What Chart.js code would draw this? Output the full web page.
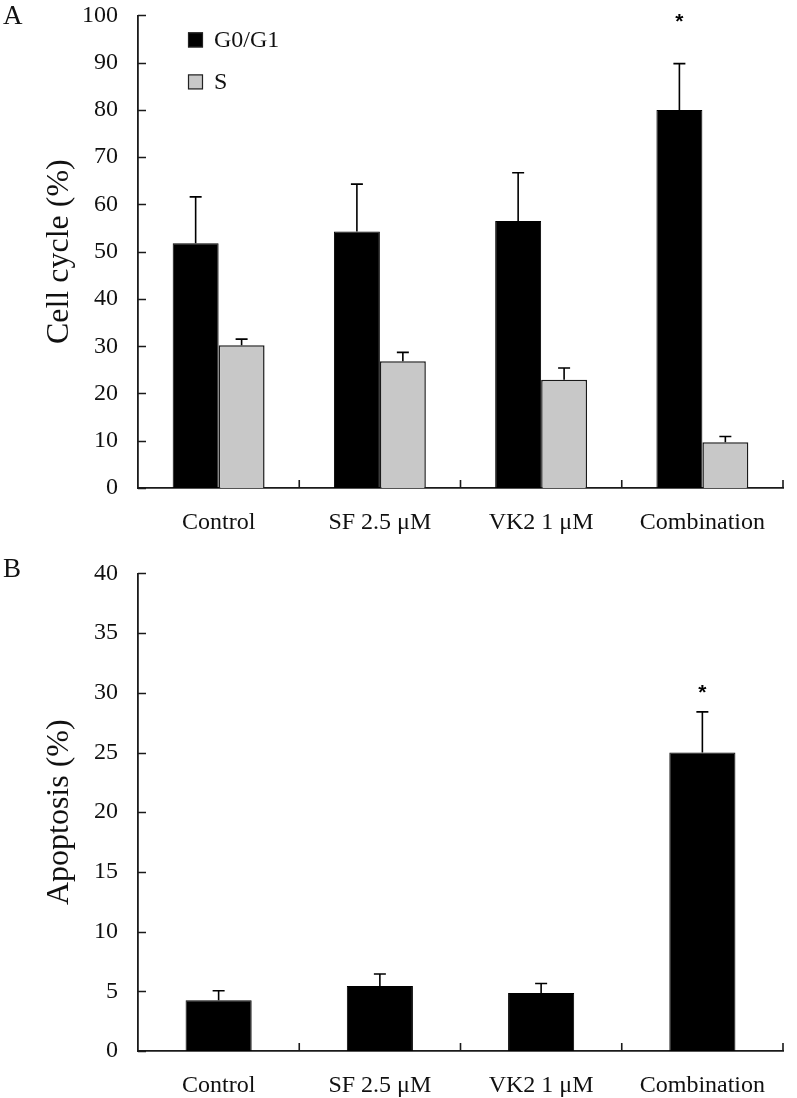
<!DOCTYPE html>
<html>
<head>
<meta charset="utf-8">
<script src="https://cdn.jsdelivr.net/npm/chart.js@4/dist/chart.umd.min.js"></script>
<style>
  html, body { margin: 0; padding: 0; background: #fff; overflow: hidden; }
  #wrap { position: relative; width: 797px; height: 1098px; overflow: hidden; }
  .panel { position: absolute; left: 0; width: 797px; }
  .letter { position: absolute; font-family: "Liberation Serif", serif; font-size: 27px; color: #111; }
</style>
</head>
<body>
<div id="wrap">
  <div class="panel" style="top:-11px"><canvas id="chartA"></canvas></div>
  <div class="panel" style="top:547px"><canvas id="chartB"></canvas></div>
  <div class="letter" style="left:3px; top:0px">A</div>
  <div class="letter" style="left:3px; top:553px">B</div>
</div>
<script>
// data
const groups = ['Control', 'SF 2.5 μM', 'VK2 1 μM', 'Combination'];

const g0g1 = [51.8, 54.3, 56.5, 80.0];
const g0g1Sd = [9.8, 10.0, 10.2, 9.8];
const sPhase = [30.2, 26.8, 22.9, 9.7];
const sPhaseSd = [1.3, 1.9, 2.5, 1.2];
const starA = [null, null, null, 99.5];

const apoptosis = [4.25, 5.45, 4.85, 25.0];
const apoptosisSd = [0.8, 1.0, 0.8, 3.4];
const starB = [null, null, null, 30.3];

const ticksA = [0, 10, 20, 30, 40, 50, 60, 70, 80, 90, 100];
const ticksB = [0, 5, 10, 15, 20, 25, 30, 35, 40];

const serif = '"Liberation Serif", "Times New Roman", serif';
const axisColor = '#1a1a1a';

// error bars (upper half only) + significance stars
const errorBarPlugin = {
    id: 'errorBars',
    afterDatasetsDraw(chart) {
        const ctx = chart.ctx;
        const y = chart.scales.y;
        ctx.save();
        ctx.strokeStyle = '#000';
        ctx.lineWidth = 1.6;
        chart.data.datasets.forEach((ds, i) => {
            const meta = chart.getDatasetMeta(i);
            meta.data.forEach((bar, j) => {
                const top = y.getPixelForValue(ds.data[j] + ds.sd[j]);
                ctx.beginPath();
                ctx.moveTo(bar.x, bar.y);
                ctx.lineTo(bar.x, top);
                ctx.moveTo(bar.x - 6, top);
                ctx.lineTo(bar.x + 6, top);
                ctx.stroke();
                if (ds.star && ds.star[j] != null) {
                    ctx.fillStyle = '#000';
                    ctx.font = 'bold 21px "Liberation Sans", Arial, sans-serif';
                    ctx.textAlign = 'center';
                    ctx.textBaseline = 'middle';
                    ctx.fillText('*', bar.x, y.getPixelForValue(ds.star[j]) + 4);
                }
            });
        });
        ctx.restore();
    }
};

// inward tick marks on both axes
const innerTicksPlugin = {
    id: 'innerTicks',
    afterDraw(chart) {
        const ctx = chart.ctx;
        const x = chart.scales.x;
        const y = chart.scales.y;
        const area = chart.chartArea;
        ctx.save();
        ctx.strokeStyle = axisColor;
        ctx.lineWidth = 1.6;
        ctx.beginPath();
        y.ticks.forEach(t => {
            const py = Math.round(y.getPixelForValue(t.value)) + 0.5;
            ctx.moveTo(area.left, py);
            ctx.lineTo(area.left + 8, py);
        });
        const n = chart.data.labels.length;
        for (let i = 1; i <= n; i++) {
            const px = i < n ? (x.getPixelForValue(i - 1) + x.getPixelForValue(i)) / 2 : area.right;
            ctx.moveTo(px, area.bottom);
            ctx.lineTo(px, area.bottom - 8);
        }
        ctx.stroke();
        ctx.restore();
    }
};

// vertical legend drawn in the top-left of panel A
const legendPlugin = {
    id: 'boxLegend',
    afterDraw(chart, args, opts) {
        if (!opts.show) return;
        const ctx = chart.ctx;
        const top = chart.chartArea.top;
        ctx.save();
        ctx.font = '24px ' + serif;
        ctx.textBaseline = 'middle';
        ctx.textAlign = 'left';
        chart.data.datasets.forEach((ds, i) => {
            const cy = top + 24 + i * 42;
            ctx.fillStyle = ds.backgroundColor;
            ctx.fillRect(188, cy - 7, 15, 15);
            ctx.strokeStyle = '#222';
            ctx.lineWidth = 1.2;
            ctx.strokeRect(188.5, cy - 6.5, 14, 14);
            ctx.fillStyle = '#111';
            ctx.fillText(ds.label, 214, cy + 1);
        });
        ctx.restore();
    }
};

function makeOptions(yMax, step, tickVals, title, xHeight, showLegend) {
    return {
        responsive: false,
        animation: false,
        layout: { padding: { top: 15, right: 14, left: 0, bottom: 0 } },
        plugins: {
            legend: { display: false },
            tooltip: { enabled: false },
            boxLegend: { show: showLegend }
        },
        scales: {
            x: {
                offset: true,
                grid: { display: false },
                border: { display: true, color: axisColor, width: 1.8 },
                ticks: {
                    color: '#111',
                    padding: 12,
                    font: { family: serif, size: 24 }
                },
                afterFit(s) { s.height = xHeight; }
            },
            y: {
                min: 0,
                max: yMax,
                grid: { display: false },
                border: { display: true, color: axisColor, width: 1.8 },
                afterBuildTicks(s) { s.ticks = tickVals.map(v => ({ value: v })); },
                ticks: {
                    stepSize: step,
                    color: '#111',
                    padding: 12,
                    font: { family: serif, size: 24 }
                },
                title: {
                    display: true,
                    text: title,
                    color: '#111',
                    padding: { top: 40, bottom: 0 },
                    font: { family: serif, size: 32 }
                },
                afterFit(s) { s.width = 138; }
            }
        }
    };
}

function setupCanvas(id, h) {
    const c = document.getElementById(id);
    c.width = 797;
    c.height = h;
    c.style.width = '797px';
    c.style.height = h + 'px';
    return c.getContext('2d');
}

new Chart(setupCanvas('chartA', 558), {
    type: 'bar',
    data: {
        labels: groups,
        datasets: [{
            label: 'G0/G1',
            data: g0g1,
            sd: g0g1Sd,
            star: starA,
            backgroundColor: '#000000',
            borderColor: '#000000',
            borderWidth: 1,
            categoryPercentage: 0.57,
            barPercentage: 1.0
        }, {
            label: 'S',
            data: sPhase,
            sd: sPhaseSd,
            backgroundColor: '#c8c8c8',
            borderColor: '#1a1a1a',
            borderWidth: 1.5,
            categoryPercentage: 0.57,
            barPercentage: 1.0
        }]
    },
    options: makeOptions(100, 10, ticksA, 'Cell cycle (%)', 59, true),
    plugins: [errorBarPlugin, innerTicksPlugin, legendPlugin]
});

new Chart(setupCanvas('chartB', 551), {
    type: 'bar',
    data: {
        labels: groups,
        datasets: [{
            label: 'Apoptosis',
            data: apoptosis,
            sd: apoptosisSd,
            star: starB,
            backgroundColor: '#000000',
            borderColor: '#000000',
            borderWidth: 1,
            categoryPercentage: 0.41,
            barPercentage: 1.0
        }]
    },
    options: makeOptions(40, 5, ticksB, 'Apoptosis (%)', 47, false),
    plugins: [errorBarPlugin, innerTicksPlugin, legendPlugin]
});
</script>
</body>
</html>
